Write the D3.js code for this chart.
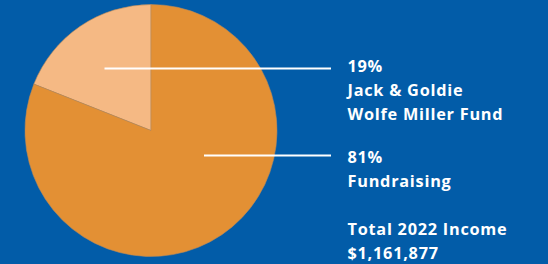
<!DOCTYPE html>
<html><head><meta charset="utf-8">
<script src="https://cdn.jsdelivr.net/npm/d3@7"></script>
<style>html,body{margin:0;padding:0;background:#025ca8;}svg{display:block;}</style>
</head><body>
<script>
const categories = ["Jack & Goldie Wolfe Miller Fund", "Fundraising"];
const values = [19, 81];
const labelLines = [["19%", "Jack & Goldie", "Wolfe Miller Fund"], ["81%", "Fundraising"]];
const totalLines = ["Total 2022 Income", "$1,161,877"];
const colors = ["#f5b984", "#e39034"];

const W = 548, H = 264;
const svg = d3.select("body").append("svg").attr("width", W).attr("height", H);
svg.append("rect").attr("width", W).attr("height", H).attr("fill", "#025ca8");

const cx = 151, cy = 130.5, r = 126;
const pie = d3.pie().sort(null).startAngle(-2 * Math.PI * values[0] / 100).endAngle(2 * Math.PI - 2 * Math.PI * values[0] / 100);
const arc = d3.arc().innerRadius(0).outerRadius(r);
const g = svg.append("g").attr("transform", `translate(${cx},${cy})`);
g.selectAll("path").data(pie(values)).join("path")
  .attr("d", arc).attr("fill", (d, i) => colors[i])
  .attr("stroke", "#b98a5a").attr("stroke-width", 0.6);

const leaders = [{x1: 104.5, y: 68.5}, {x1: 204, y: 155.5}];
leaders.forEach(l => {
  svg.append("line").attr("x1", l.x1).attr("x2", 331).attr("y1", l.y).attr("y2", l.y)
    .attr("stroke", "#fff").attr("stroke-width", 2.2);
});

const font = "'Open Sans', sans-serif";
const tx = 347.5;
const fs = 16.3;
function addText(t, y) {
  return svg.append("text").attr("x", tx).attr("y", y).text(t)
    .attr("fill", "#fff").attr("font-family", font).attr("font-weight", 700).attr("font-size", fs)
    .attr("letter-spacing", 0.75);
}
const blockY = [72, 163];
labelLines.forEach((lines, i) => {
  lines.forEach((t, j) => addText(t, blockY[i] + j * 24.1));
});
totalLines.forEach((t, j) => addText(t, 234.5 + j * 24));
</script>
</body></html>
